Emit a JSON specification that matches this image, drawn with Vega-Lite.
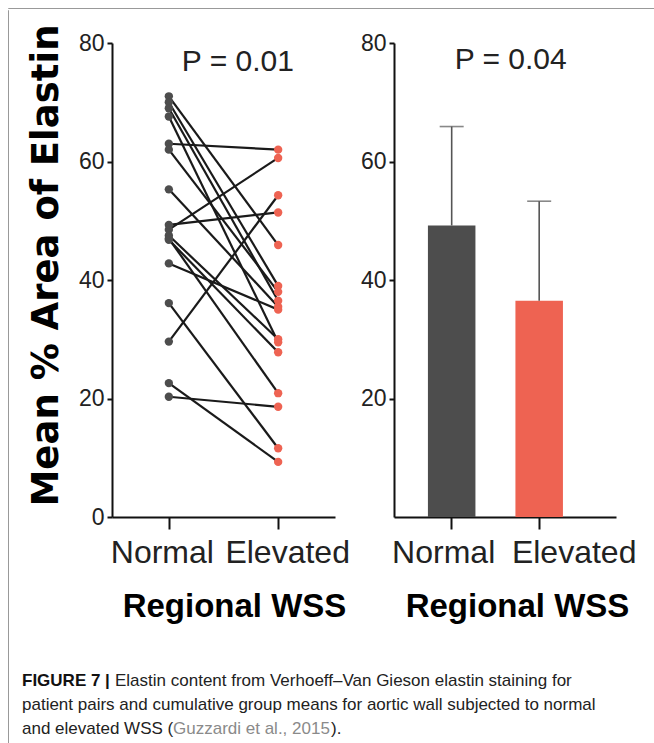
{
  "$schema": "https://vega.github.io/schema/vega-lite/v6.json",
  "background": "white",
  "padding": {"left": 7, "top": 7, "right": 0, "bottom": 0},
  "config": {
    "view": {"stroke": null},
    "axis": {"domainColor": "#111", "domainWidth": 2, "tickColor": "#111", "tickWidth": 2, "grid": false, "labelColor": "#222", "titleColor": "#000"}
  },
  "datasets": {
    "pairs": [
      {"pair": 1, "group": "Normal", "value": 63.0}, {"pair": 1, "group": "Elevated", "value": 62.0},
      {"pair": 2, "group": "Normal", "value": 48.5}, {"pair": 2, "group": "Elevated", "value": 60.6},
      {"pair": 3, "group": "Normal", "value": 49.3}, {"pair": 3, "group": "Elevated", "value": 51.4},
      {"pair": 4, "group": "Normal", "value": 29.6}, {"pair": 4, "group": "Elevated", "value": 54.3},
      {"pair": 5, "group": "Normal", "value": 71.0}, {"pair": 5, "group": "Elevated", "value": 45.9},
      {"pair": 6, "group": "Normal", "value": 70.0}, {"pair": 6, "group": "Elevated", "value": 39.0},
      {"pair": 7, "group": "Normal", "value": 69.0}, {"pair": 7, "group": "Elevated", "value": 36.5},
      {"pair": 8, "group": "Normal", "value": 67.6}, {"pair": 8, "group": "Elevated", "value": 29.5},
      {"pair": 9, "group": "Normal", "value": 62.0}, {"pair": 9, "group": "Elevated", "value": 38.0},
      {"pair": 10, "group": "Normal", "value": 55.3}, {"pair": 10, "group": "Elevated", "value": 35.5},
      {"pair": 11, "group": "Normal", "value": 47.5}, {"pair": 11, "group": "Elevated", "value": 30.0},
      {"pair": 12, "group": "Normal", "value": 46.8}, {"pair": 12, "group": "Elevated", "value": 27.8},
      {"pair": 13, "group": "Normal", "value": 42.8}, {"pair": 13, "group": "Elevated", "value": 35.0},
      {"pair": 14, "group": "Normal", "value": 47.0}, {"pair": 14, "group": "Elevated", "value": 20.9},
      {"pair": 15, "group": "Normal", "value": 36.1}, {"pair": 15, "group": "Elevated", "value": 11.6},
      {"pair": 16, "group": "Normal", "value": 22.6}, {"pair": 16, "group": "Elevated", "value": 9.3},
      {"pair": 17, "group": "Normal", "value": 20.3}, {"pair": 17, "group": "Elevated", "value": 18.6}
    ],
    "means": [
      {"group": "Normal", "mean": 49.2, "upper": 65.9},
      {"group": "Elevated", "mean": 36.5, "upper": 53.3}
    ],
    "caption": [
      {"line": 1, "part": "bold", "text": "FIGURE 7 |"},
      {"line": 1, "part": "after", "text": "Elastin content from Verhoeff–Van Gieson elastin staining for"},
      {"line": 2, "part": "plain", "text": "patient pairs and cumulative group means for aortic wall subjected to normal"},
      {"line": 3, "part": "plain", "text": "and elevated WSS ("},
      {"line": 3, "part": "cite", "text": "Guzzardi et al., 2015"},
      {"line": 3, "part": "end", "text": ")."}
    ]
  },
  "spacing": 0,
  "vconcat": [
    {
      "width": 647, "height": 0.01,
      "view": {"stroke": "#999", "strokeWidth": 1},
      "data": {"values": [{}]},
      "mark": {"type": "point", "size": 0, "opacity": 0},
      "encoding": {}
    },
    {
      "spacing": 13,
      "hconcat": [
        {
          "width": 0.01, "height": 736,
          "view": {"stroke": "#999", "strokeWidth": 1},
          "data": {"values": [{}]},
          "mark": {"type": "point", "size": 0, "opacity": 0},
          "encoding": {}
        },
        {
          "spacing": 13,
          "vconcat": [
            {
              "width": 0.01, "height": 0.01,
              "data": {"values": [{}]},
              "mark": {"type": "point", "size": 0, "opacity": 0},
              "encoding": {}
            },
            {
              "spacing": 49,
              "vconcat": [
                {
                  "spacing": 10,
                  "hconcat": [
                    {
                      "width": 223, "height": 474,
                      "layer": [
                        {"data": {"name": "pairs"},
                          "mark": {"type": "line", "color": "#1a1a1a", "strokeWidth": 2.2},
                          "encoding": {
                            "x": {"field": "group", "type": "nominal", "sort": ["Normal", "Elevated"],
                              "scale": {"type": "point", "padding": 0.52},
                              "axis": {"title": "Regional WSS", "titleFont": "Liberation Sans", "titleFontWeight": "bold", "titleFontSize": 33,
                                "titleX": 122, "titleY": 99, "titleBaseline": "alphabetic",
                                "labelAngle": 0, "labelFont": "Liberation Sans", "labelFontSize": 32,
                                "labelBaseline": "alphabetic", "labelPadding": 33, "tickSize": 12,
                                "labelOffset": {"condition": {"test": "datum.value === 'Normal'", "value": -7}, "value": 9}}},
                            "y": {"field": "value", "type": "quantitative",
                              "scale": {"domain": [0, 80], "nice": false},
                              "axis": {"values": [0, 20, 40, 60, 80], "title": "Mean % Area of Elastin",
                                "titleFont": "DejaVu Sans", "titleFontWeight": "bold", "titleFontSize": 37,
                                "titleX": -55, "titleY": 222, "titleBaseline": "alphabetic", "titleAngle": -90,
                                "labelFont": "Liberation Sans", "labelFontSize": 23,
                                "tickSize": 5, "labelPadding": 3}},
                            "detail": {"field": "pair", "type": "nominal"}
                          }},
                        {"data": {"name": "pairs"},
                          "mark": {"type": "circle", "size": 70, "opacity": 1},
                          "encoding": {
                            "x": {"field": "group", "type": "nominal", "sort": ["Normal", "Elevated"]},
                            "y": {"field": "value", "type": "quantitative"},
                            "color": {"field": "group", "type": "nominal",
                              "scale": {"domain": ["Normal", "Elevated"], "range": ["#4d4d4d", "#EE6352"]}, "legend": null}}},
                        {"data": {"values": [{"label": "P = 0.01", "group": "Normal", "pos": 75.3}]},
                          "mark": {"type": "text", "align": "left", "baseline": "alphabetic", "dx": 13,
                            "font": "Liberation Sans", "fontSize": 30, "color": "#222"},
                          "encoding": {
                            "x": {"field": "group", "type": "nominal", "sort": ["Normal", "Elevated"]},
                            "y": {"field": "pos", "type": "quantitative"},
                            "text": {"field": "label"}}}
                      ]
                    },
                    {
                      "width": 222, "height": 474,
                      "data": {"name": "means"},
                      "encoding": {
                        "x": {"field": "group", "type": "nominal", "sort": ["Normal", "Elevated"],
                          "scale": {"type": "band", "paddingInner": 0.457, "paddingOuter": 0.497, "align": 0.39},
                          "axis": {"title": "Regional WSS", "titleFont": "Liberation Sans", "titleFontWeight": "bold", "titleFontSize": 33,
                            "titleX": 123, "titleY": 99, "titleBaseline": "alphabetic",
                            "labelAngle": 0, "labelFont": "Liberation Sans", "labelFontSize": 32,
                            "labelBaseline": "alphabetic", "labelPadding": 33, "tickSize": 12,
                            "labelOffset": {"condition": {"test": "datum.value === 'Normal'", "value": -8}, "value": 35}}}
                      },
                      "layer": [
                        {"mark": {"type": "bar"},
                          "encoding": {
                            "y": {"field": "mean", "type": "quantitative",
                              "scale": {"domain": [0, 80], "nice": false},
                              "axis": {"values": [20, 40, 60, 80], "title": null,
                                "labelFont": "Liberation Sans", "labelFontSize": 23,
                                "tickSize": 5, "labelPadding": 3}},
                            "color": {"field": "group", "type": "nominal",
                              "scale": {"domain": ["Normal", "Elevated"], "range": ["#505050", "#ED6351"]}, "legend": null}}},
                        {"mark": {"type": "rule", "color": "#555", "strokeWidth": 1.6},
                          "encoding": {"y": {"field": "mean", "type": "quantitative"}, "y2": {"field": "upper"}}},
                        {"mark": {"type": "tick", "color": "#555", "thickness": 1.6, "size": 24},
                          "encoding": {"y": {"field": "upper", "type": "quantitative"}}},
                        {"data": {"values": [{"label": "P = 0.04", "group": "Normal", "pos": 75.6}]},
                          "mark": {"type": "text", "align": "left", "baseline": "alphabetic", "dx": 3,
                            "font": "Liberation Sans", "fontSize": 30, "color": "#222"},
                          "encoding": {"y": {"field": "pos", "type": "quantitative"}, "text": {"field": "label"}}}
                      ]
                    }
                  ]
                },
                {
                  "width": 600, "height": 48,
                  "data": {"name": "caption"},
                  "encoding": {
                    "x": {"datum": 0, "type": "quantitative", "scale": {"domain": [0, 1]}, "axis": null},
                    "y": {"field": "line", "type": "quantitative", "scale": {"domain": [1, 3], "reverse": true}, "axis": null},
                    "text": {"field": "text"}
                  },
                  "layer": [
                    {"transform": [{"filter": "datum.part === 'bold'"}],
                      "mark": {"type": "text", "align": "left", "baseline": "alphabetic", "dx": -90, "font": "Liberation Sans", "fontSize": 17, "fontWeight": "bold", "color": "#111"}},
                    {"transform": [{"filter": "datum.part === 'after'"}],
                      "mark": {"type": "text", "align": "left", "baseline": "alphabetic", "dx": 3, "font": "Liberation Sans", "fontSize": 17, "color": "#222"}},
                    {"transform": [{"filter": "datum.part === 'plain'"}],
                      "mark": {"type": "text", "align": "left", "baseline": "alphabetic", "dx": -90, "font": "Liberation Sans", "fontSize": 17, "color": "#222"}},
                    {"transform": [{"filter": "datum.part === 'cite'"}],
                      "mark": {"type": "text", "align": "left", "baseline": "alphabetic", "dx": 61, "font": "Liberation Sans", "fontSize": 17, "color": "#8a8a8a"}},
                    {"transform": [{"filter": "datum.part === 'end'"}],
                      "mark": {"type": "text", "align": "left", "baseline": "alphabetic", "dx": 219, "font": "Liberation Sans", "fontSize": 17, "color": "#222"}}
                  ]
                }
              ]
            }
          ]
        }
      ]
    }
  ]
}
